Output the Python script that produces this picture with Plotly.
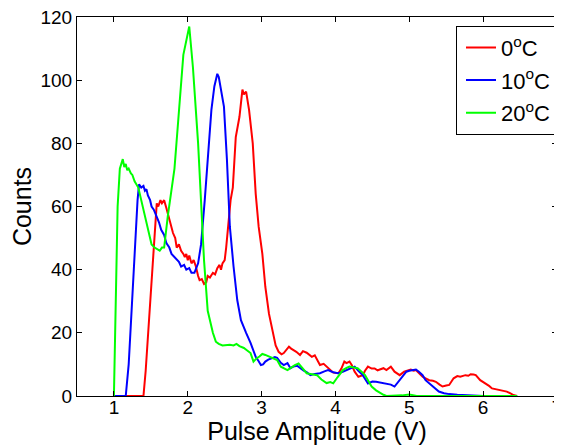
import plotly.graph_objects as go

# pulse amplitude spectra
x_0c = [1.0, 1.4, 1.43, 1.46, 1.51, 1.55, 1.58, 1.6, 1.63, 1.65, 1.68, 1.71, 1.74, 1.76, 1.78, 1.8, 1.83, 1.85,
        1.88, 1.91, 1.94, 1.96, 1.98, 2.0, 2.02, 2.05, 2.08, 2.11, 2.14, 2.16, 2.19, 2.22, 2.25, 2.27, 2.3, 2.34,
        2.37, 2.4, 2.43, 2.45, 2.47, 2.5, 2.52, 2.54, 2.56, 2.58, 2.61, 2.65, 2.7, 2.74, 2.76, 2.79, 2.83, 2.88,
        2.92, 2.96, 3.01, 3.05, 3.1, 3.14, 3.19, 3.23, 3.27, 3.3, 3.34, 3.37, 3.4, 3.43, 3.47, 3.52, 3.56, 3.61,
        3.65, 3.68, 3.72, 3.75, 3.79, 3.84, 3.88, 3.93, 3.97, 4.04, 4.08, 4.12, 4.15, 4.19, 4.22, 4.26, 4.31, 4.37,
        4.4, 4.44, 4.49, 4.53, 4.57, 4.6, 4.65, 4.69, 4.75, 4.8, 4.87, 4.93, 4.98, 5.02, 5.06, 5.09, 5.14, 5.18,
        5.22, 5.27, 5.32, 5.36, 5.41, 5.45, 5.5, 5.54, 5.6, 5.65, 5.69, 5.73, 5.76, 5.8, 5.83, 5.87, 5.9, 5.96,
        6.03, 6.08, 6.12, 6.18, 6.23, 6.28, 6.32, 6.37, 6.41, 6.46]
y_0c = [0, 0, 8, 19, 34, 52, 61, 60, 62, 61, 62, 59.5, 57, 55, 53, 51.6, 50, 47, 48, 46, 45, 44, 45, 43, 44.5,
        42, 43, 41, 38, 36.7, 37, 35.5, 36, 38, 37.5, 39, 38.5, 40.5, 41.5, 40, 42, 43, 47, 52, 59, 62, 66, 82,
        88.4, 97, 95.5, 96.4, 90.6, 80, 64, 53.6, 45, 34.6, 26, 22, 16, 14, 13.2, 13.6, 14.6, 15.6, 15, 14.6, 14,
        13, 14.2, 13.7, 12.8, 12.4, 12.9, 11.4, 9.8, 10.2, 9.3, 8.4, 7.4, 7.2, 8.7, 10.9, 10.4, 10.9, 9.8, 7.7,
        6.1, 6.6, 8.0, 9.3, 8.7, 8.7, 8.1, 8.4, 8.8, 8.2, 9.3, 7.7, 6.6, 7.7, 8.2, 8.4, 8.0, 8.2, 7.0, 6.1, 5.6,
        5, 4.8, 4.5, 3.6, 3, 3.3, 3.5, 5.6, 6.3, 6.1, 6.4, 6.6, 6.4, 6.9, 6.8, 6.6, 5, 4, 3.2, 2.4, 2.1, 1.9, 1.8,
        1.4, 0.8, 0.3, 0]

x_10c = [1.0, 1.16, 1.2, 1.24, 1.27, 1.29, 1.32, 1.34, 1.37, 1.4, 1.42, 1.44, 1.46, 1.49, 1.51, 1.54, 1.58,
         1.61, 1.64, 1.68, 1.71, 1.75, 1.78, 1.82, 1.85, 1.88, 1.91, 1.95, 1.98, 2.02, 2.05, 2.09, 2.14, 2.18,
         2.23, 2.27, 2.32, 2.36, 2.38, 2.4, 2.42, 2.44, 2.49, 2.53, 2.57, 2.62, 2.67, 2.72, 2.76, 2.79, 2.85,
         2.89, 2.92, 2.96, 2.99, 3.02, 3.05, 3.09, 3.14, 3.18, 3.21, 3.26, 3.3, 3.35, 3.39, 3.43, 3.48, 3.52,
         3.57, 3.61, 3.66, 3.72, 3.79, 3.85, 3.9, 3.96, 4.03, 4.09, 4.15, 4.21, 4.26, 4.31, 4.37, 4.44, 4.5,
         4.55, 4.62, 4.69, 4.75, 4.8, 4.87, 4.92, 4.96, 5.0, 5.04, 5.09, 5.13, 5.18, 5.22, 5.27, 5.31, 5.36,
         5.4, 5.47, 5.54, 5.65, 5.76, 5.9, 6.0, 6.46]
y_10c = [0, 0, 10, 28, 38, 46, 62, 67, 66, 66.5, 65, 65.5, 63.5, 62, 60, 59, 57, 55, 52.6, 51, 48.4, 47,
         45, 44, 43, 42.5, 41, 41.5, 40, 40.5, 39, 39, 42, 48, 62, 75, 90.6, 98, 100, 102, 101, 98, 91.6, 75,
         53.6, 41, 30.4, 24, 22, 20, 16.8, 14.5, 12.4, 11, 9.8, 10, 10.9, 11.5, 11.9, 12.3, 12.1, 10.5, 9.8,
         10.4, 8.8, 9.3, 9.6, 8.8, 8.0, 7.6, 6.6, 7.0, 7.2, 7.8, 8.2, 7.6, 7.2, 7.6, 8.2, 8.8, 9.3, 8.0, 6.6,
         4, 4.6, 4.5, 4.2, 4, 3.6, 3, 5, 6.6, 7.7, 8.0, 8.2, 8.4, 7.7, 6.6, 5, 4, 3, 2.2, 1.4, 0.9, 0.6, 0.4, 0.3,
         0.2, 0, 0]

x_20c = [1.0, 1.02, 1.05, 1.08, 1.12, 1.14, 1.16, 1.18, 1.2, 1.23, 1.25, 1.28, 1.3, 1.33, 1.35, 1.38, 1.42,
         1.45, 1.48, 1.51, 1.55, 1.58, 1.62, 1.65, 1.68, 1.73, 1.78, 1.82, 1.87, 1.94, 2.02, 2.07, 2.14, 2.18,
         2.22, 2.27, 2.31, 2.34, 2.38, 2.42, 2.47, 2.53, 2.57, 2.62, 2.66, 2.7, 2.76, 2.8, 2.85, 2.89, 2.93,
         2.97, 3.01, 3.05, 3.1, 3.15, 3.21, 3.26, 3.3, 3.35, 3.4, 3.45, 3.5, 3.55, 3.61, 3.68, 3.75, 3.81,
         3.88, 3.93, 3.97, 4.03, 4.1, 4.15, 4.19, 4.25, 4.3, 4.35, 4.4, 4.45, 4.49, 4.55, 4.6, 4.65, 4.69,
         4.8, 4.9, 5.0, 5.1, 5.5, 6.0, 6.46]
y_20c = [0, 30, 60, 72, 75, 72.5, 73.5, 71.5, 72, 70.5, 70, 68, 67, 66, 64, 61, 57, 53, 50, 48, 47, 46.5, 46,
         47, 47, 57, 66, 72, 87, 108, 117, 104, 80, 62, 43, 27, 23, 20, 17.2, 16.5, 16, 16.2, 16.2, 16, 16.5,
         15.8, 15.2, 14.5, 13.6, 10.9, 11.9, 12.5, 13.3, 13, 12.5, 12.2, 11.4, 9.3, 8.7, 8.2, 9.0, 9.8, 10.3,
         8.8, 7.2, 6.9, 6.6, 5.2, 4.1, 4.4, 4, 6, 8.2, 8.9, 9.3, 9.0, 8.8, 7.8, 6.6, 4.6, 3, 1.8, 1, 0.4, 0,
         0, 0.2, 0.5, 0, 0, 0, 0]

series = [
    ("0<sup>o</sup>C", x_0c, y_0c, "#ff0000"),
    ("10<sup>o</sup>C", x_10c, y_10c, "#0000ff"),
    ("20<sup>o</sup>C", x_20c, y_20c, "#00ff00"),
]

fig = go.Figure()
for i, (name, xs, ys, col) in enumerate(series):
    fig.add_trace(go.Scatter(x=xs, y=ys, mode="lines", name=name, legendgroup=f"g{i}",
                             line=dict(color=col, width=2)))

axis_style = dict(showline=True, linecolor="black", linewidth=1, mirror="ticks",
                  ticks="inside", ticklen=5, tickcolor="black", showgrid=False,
                  zeroline=False, ticklabeloverflow="allow", automargin=False,
                  tickfont=dict(size=19, color="black"))

# page body has an 8px margin, so the figure is 8px smaller than the window
fig.update_layout(
    width=554, height=437,
    margin=dict(l=69, r=5, t=9, b=49),
    paper_bgcolor="white", plot_bgcolor="white",
    font=dict(family="Liberation Sans, Arial, sans-serif", color="black"),
    xaxis=dict(range=[0.5, 7], tickvals=[1, 2, 3, 4, 5, 6, 7], ticklabelstandoff=-6,
               title=dict(text="Pulse Amplitude (V)", font=dict(size=25), standoff=13),
               **axis_style),
    yaxis=dict(range=[0, 120], tickvals=[0, 20, 40, 60, 80, 100, 120],
               title=dict(text="Counts", font=dict(size=25), standoff=18),
               **axis_style),
    legend=dict(x=1.0, y=0.977, xanchor="right", yanchor="top",
                bordercolor="black", borderwidth=1, bgcolor="white", indentation=4,
                font=dict(size=22, color="black"), tracegroupgap=1),
    showlegend=True,
)

fig.write_html("out.html")
